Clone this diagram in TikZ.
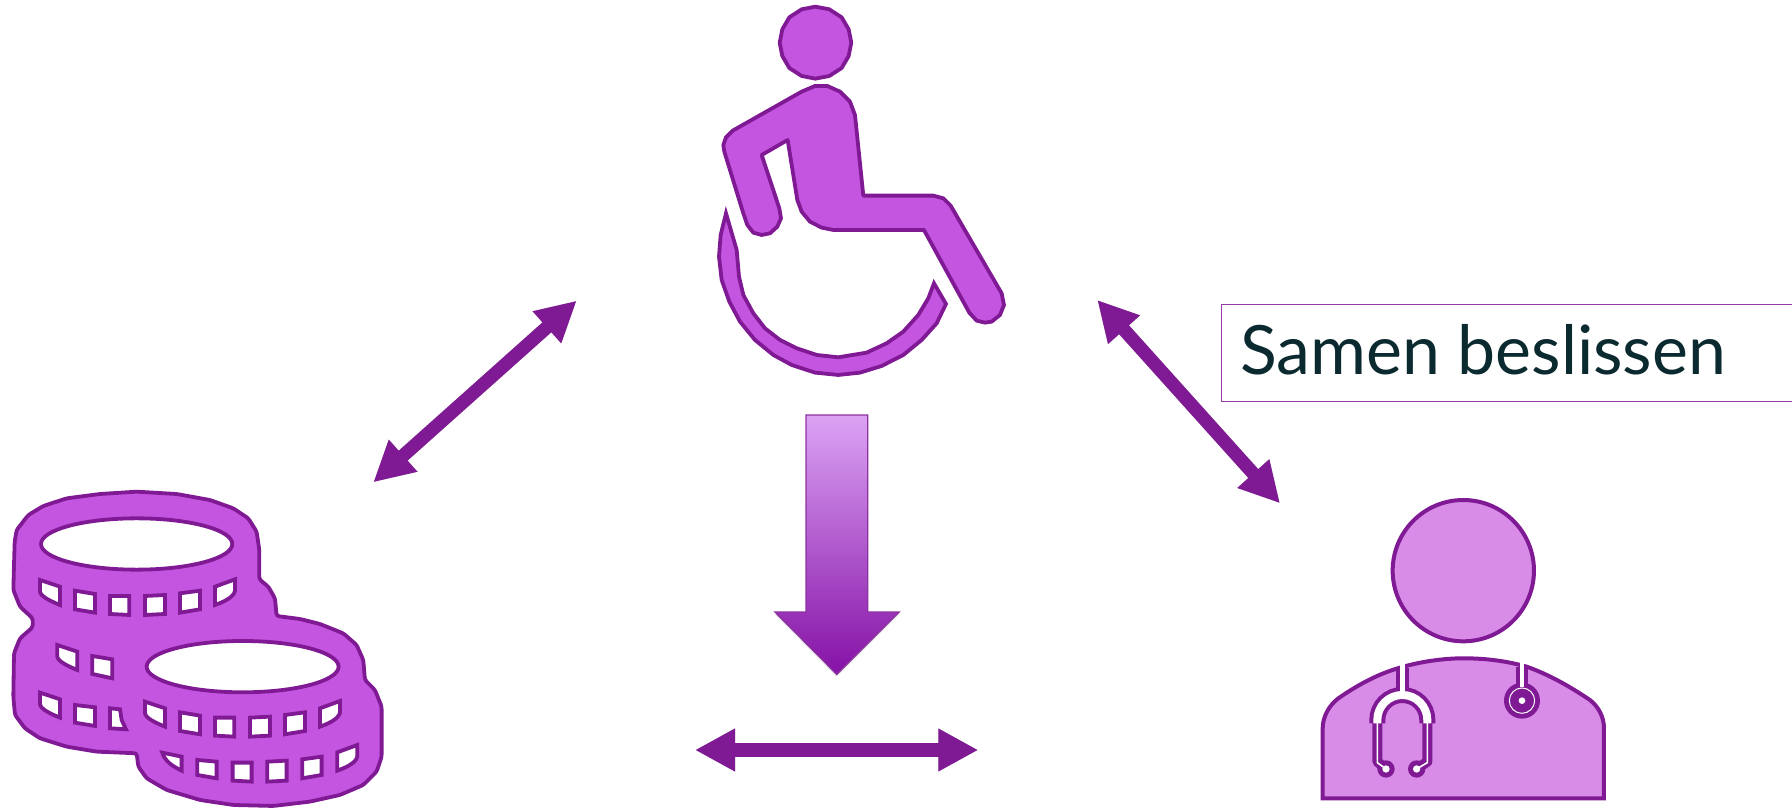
\documentclass[tikz,border=0pt]{standalone}
\usepackage{fontspec}
\setmainfont{Lato}
\usetikzlibrary{arrows.meta}
\definecolor{pline}{HTML}{7F1A94}
\definecolor{pfill}{HTML}{C455E0}
\definecolor{dfill}{HTML}{D88CE8}
\definecolor{txtc}{HTML}{0B2A30}
\definecolor{gtop}{HTML}{DBA3F4}
\definecolor{gbot}{HTML}{8511A6}
\tikzset{
  icon/.style={draw=pline,fill=pfill,line width=3.8pt,line join=round},
  hole/.style={draw=pline,fill=white,line width=3.8pt,line join=miter},
  docshape/.style={draw=pline,fill=dfill,line width=4pt,line join=miter},
  stroke1/.style={draw=pline,line cap=butt},
  white1/.style={draw=white,line cap=butt},
  dbl/.style={line width=13.3pt,draw=pline,>={Triangle[length=40pt,width=40pt]},<->},
  dblshadow/.style={line width=13.3pt,draw=black,draw opacity=.06,fill opacity=.06,>={Triangle[length=40pt,width=40pt,fill=black]},<->},
}
\newcommand{\coinhead}[2]{% first hole of a row, rounded
  \draw[hole,shift={(#1,#2)}] (0,0) -- (60,20) -- (60,75) .. controls (35,65) and (2,50) .. (0,35) -- cycle;}
\newcommand{\cointail}[2]{%
  \draw[hole,shift={(#1,#2)}] (0,22) -- (60,0) -- (60,35) .. controls (55,55) and (25,68) .. (0,77) -- cycle;}
\begin{document}
\begin{tikzpicture}[x=1pt,y=-1pt]
\useasboundingbox (0,0) rectangle (1792,808);
% anchors of the connectors
\coordinate (ua) at (576.7,300.7);
\coordinate (ub) at (373.3,482.3);
\coordinate (va) at (1097.3,300);
\coordinate (vb) at (1280,503.3);
\coordinate (wa) at (695,750);
\coordinate (wb) at (978.3,750);

% coins
\begin{scope}[shift={(0,470)},x=0.3333pt,y=-0.3333pt]
\draw[icon,rounded corners=2.5pt] (44,215)--(50,180)--(85,135)--(130,108)--(200,85)--(300,72)--(410,65)--(530,72)--(630,90)--(700,115)--(745,145)--(770,185)--(778,240)--(778,328)--(805,350)--(825,385)--(830,438)--(900,447)--(960,462)--(1030,490)--(1070,525)--(1090,570)--(1095,630)--(1125,660)--(1145,710)--(1145,860)--(1130,905)--(1090,945)--(1020,975)--(930,995)--(820,1008)--(700,1005)--(600,990)--(500,960)--(440,925)--(415,890)--(410,850)--(290,845)--(200,830)--(120,805)--(75,775)--(45,735)--(40,680)--(42,550)--(60,505)--(98,472)--(98,445)--(60,410)--(40,360)--cycle;
\draw[hole] (410,222) ellipse [x radius=287,y radius=77];
\draw[hole] (728,590) ellipse [x radius=288,y radius=77];
% upper coin, first row
\coinhead{120}{330}
\draw[hole] (225,362)--(285,372)--(285,428)--(225,418)--cycle;
\draw[hole] (330,378)--(388,378)--(388,435)--(330,432)--cycle;
\draw[hole] (435,378)--(495,375)--(495,432)--(435,435)--cycle;
\draw[hole] (540,370)--(600,362)--(600,418)--(540,428)--cycle;
\cointail{645}{328}
% second row
\coinhead{172}{525}
\draw[hole] (277,558)--(337,568)--(337,625)--(277,612)--cycle;
% third row
\coinhead{120}{668}
\draw[hole] (225,705)--(285,712)--(285,768)--(225,758)--cycle;
\draw[hole] (330,715)--(360,718)--(365,750)--(378,778)--(330,775)--cycle;
% lower coin, first row
\coinhead{435}{695}
\draw[hole] (540,727)--(600,737)--(600,793)--(540,783)--cycle;
\draw[hole] (645,743)--(703,743)--(703,800)--(645,797)--cycle;
\draw[hole] (750,743)--(810,740)--(810,797)--(750,800)--cycle;
\draw[hole] (855,735)--(915,727)--(915,783)--(855,793)--cycle;
\cointail{960}{693}
% lower coin, second row
\draw[hole] (487,848)--(545,860)--(545,902) .. controls (520,890) and (495,875) .. (487,848)--cycle;
\draw[hole] (592,870)--(650,875)--(650,925)--(592,915)--cycle;
\draw[hole] (698,878)--(755,878)--(755,935)--(698,932)--cycle;
\draw[hole] (802,875)--(860,872)--(860,932)--(802,935)--cycle;
\draw[hole] (907,868)--(965,860)--(965,915)--(907,925)--cycle;
\cointail{1012}{825}
\end{scope}

% wheelchair user
\begin{scope}[shift={(690,0)},x=0.3333pt,y=-0.3333pt]
\draw[icon] (376,20)--(418,28)--(455,52)--(476,88)--(484,128)--(476,168)--(455,204)--(418,228)--(376,236)--(335,228)--(298,204)--(277,168)--(269,128)--(277,88)--(298,52)--(335,28)--cycle;
\draw[icon] (335,275)--(375,258)--(412,258)--(450,275)--(480,305)--(495,345)--(520,587)--(730,587)--(760,595)--(782,617)--(935,880)--(942,915)--(930,945)--(905,965)--(885,968)--(860,962)--(838,938)--(702,690)--(430,690)--(395,683)--(360,665)--(335,635)--(322,600)--(293,420)--(215,465)--(268,625)--(273,655)--(262,680)--(240,700)--(215,705)--(190,698)--(172,675)--(160,640)--(103,455)--(100,435)--(108,412)--(128,392)--cycle;
\draw[icon,line join=miter] (108,640)--(92,705)--(87,770)--(95,840)--(118,905)--(150,965)--(195,1020)--(250,1065)--(305,1095)--(375,1118)--(445,1125)--(510,1118)--(575,1098)--(640,1065)--(695,1020)--(740,970)--(768,912)--(732,850)--(715,895)--(685,945)--(640,995)--(590,1030)--(530,1058)--(445,1072)--(380,1065)--(320,1045)--(270,1020)--(225,985)--(190,940)--(160,885)--(147,830)--(140,750)--cycle;
\end{scope}

% doctor
\begin{scope}[shift={(1300,490)},x=0.3333pt,y=-0.3333pt]
\draw[docshape] (490,242) circle [radius=212];
\draw[docshape] (68,925)--(68,715) .. controls (68,680) and (88,645) .. (115,625) .. controls (180,580) and (240,550) .. (300,533) .. controls (360,515) and (430,505) .. (490,505) .. controls (555,505) and (615,512) .. (680,530) .. controls (750,555) and (810,590) .. (870,630) .. controls (895,650) and (912,680) .. (912,715)--(912,925)--cycle;
% stethoscope, purple layer
\draw[stroke1,line width=12.5pt] (307,533)--(307,600);
\draw[stroke1,line width=16pt] (232,700)--(232,690) arc[start angle=180,end angle=360,radius=75]--(382,700);
\draw[stroke1,line width=10pt,line join=round] (232,695)--(232,815)--(258,837);
\draw[stroke1,line width=10pt,line join=round] (382,695)--(382,815)--(350,837);
\fill[pline] (258,837) circle [radius=26];
\fill[pline] (350,837) circle [radius=26];
\draw[stroke1,line width=12.5pt] (666,530)--(666,600);
\fill[pline] (666,632) circle [radius=54];
% stethoscope, white layer
\draw[white1,line width=4.4pt] (307,515)--(307,615);
\draw[white1,line width=8pt] (232,700)--(232,690) arc[start angle=180,end angle=360,radius=75]--(382,700);
\draw[white1,line width=1.6pt,line join=round] (232,695)--(232,818)--(258,837);
\draw[white1,line width=1.6pt,line join=round] (382,695)--(382,818)--(350,837);
\fill[white] (258,837) circle [radius=11];
\fill[white] (350,837) circle [radius=11];
\draw[white1,line width=4.4pt] (666,515)--(666,592);
\draw[white,line width=1pt] (666,632) circle [radius=38];
\fill[white] (666,632) circle [radius=10];
\end{scope}

% big arrow down
\foreach \s in {1,2,3}
  \fill[black,opacity=.05,shift={(0,\s)}] (806,415)--(867.7,415)--(867.7,612)--(899,612)--(836.7,674.3)--(775,612)--(806,612)--cycle;
\shadedraw[top color=gtop,bottom color=gbot,draw=pline!90!white,line width=1.4pt,line join=miter] (806,415)--(867.7,415)--(867.7,612)--(899,612)--(836.7,674.3)--(775,612)--(806,612)--cycle;

% double arrows
\foreach \s in {1,2,3,4}{
  \draw[dblshadow,shift={(0,\s)}] (ua)--(ub);
  \draw[dblshadow,shift={(0,\s)}] (va)--(vb);
  \draw[dblshadow,shift={(0,\s)}] (wa)--(wb);
}
\draw[dbl] (ua)--(ub);
\draw[dbl] (va)--(vb);
\draw[dbl] (wa)--(wb);

% label
\node[draw=pline!85!white,line width=1.4pt,fill=white,anchor=north west,minimum width=580pt,minimum height=97pt,inner sep=0pt] (box) at (1221,304) {};
\node[anchor=base west,inner sep=0pt,text=txtc,font=\fontsize{68}{72}\selectfont] (label) at (1240,374.5) {Samen beslissen};
\end{tikzpicture}
\end{document}
